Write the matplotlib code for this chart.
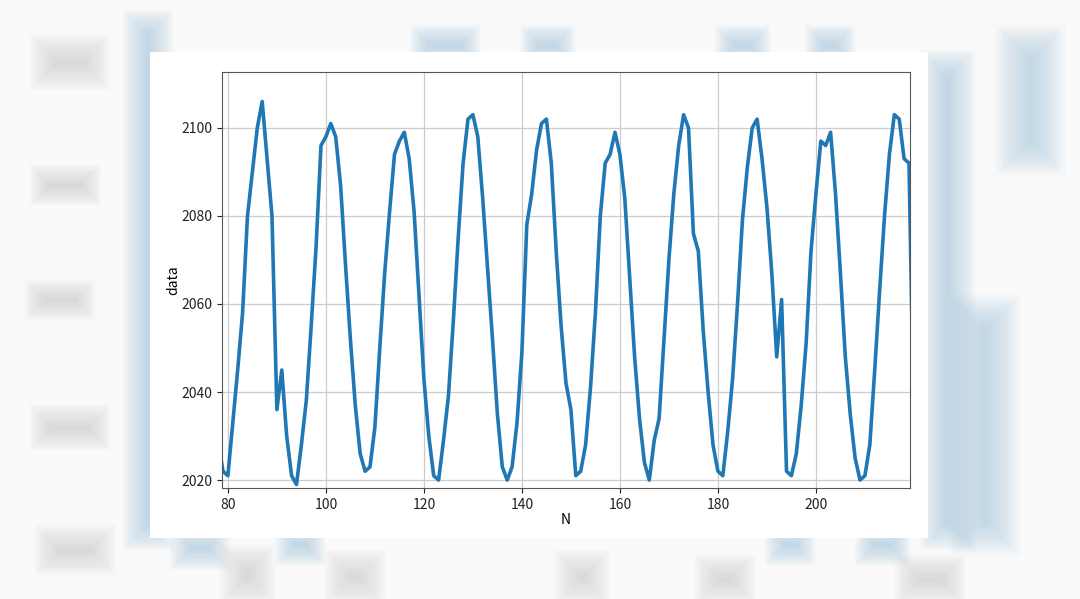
"""
Line chart of a periodic signal (data vs N), drawn on a white card over a
soft, blurred backdrop.
"""
import numpy as np
import matplotlib.pyplot as plt
from matplotlib.patches import Rectangle

plt.rcParams['font.family'] = ['Noto Sans CJK SC', 'DejaVu Sans']

N = list(range(78, 221))
data = [
    2029, 2022, 2021, 2033, 2045, 2058, 2080, 2090, 2100, 2106,   # 78-87
    2093, 2080, 2036, 2045, 2030, 2021, 2019, 2028, 2038, 2055,   # 88-97
    2073, 2096, 2098, 2101, 2098, 2087, 2069, 2052, 2037, 2026,   # 98-107
    2022, 2023, 2032, 2050, 2067, 2081, 2094, 2097, 2099, 2093,   # 108-117
    2081, 2062, 2043, 2030, 2021, 2020, 2029, 2039, 2056, 2075,   # 118-127
    2092, 2102, 2103, 2098, 2084, 2068, 2052, 2035, 2023, 2020,   # 128-137
    2023, 2033, 2049, 2078, 2085, 2095, 2101, 2102, 2092, 2072,   # 138-147
    2055, 2042, 2036, 2021, 2022, 2028, 2041, 2058, 2080, 2092,   # 148-157
    2094, 2099, 2094, 2084, 2066, 2048, 2034, 2024, 2020, 2029,   # 158-167
    2034, 2052, 2070, 2085, 2096, 2103, 2100, 2076, 2072, 2054,   # 168-177
    2040, 2028, 2022, 2021, 2031, 2043, 2060, 2079, 2091, 2100,   # 178-187
    2102, 2093, 2082, 2067, 2048, 2061, 2022, 2021, 2026, 2037,   # 188-197
    2051, 2072, 2085, 2097, 2096, 2099, 2085, 2067, 2048, 2035,   # 198-207
    2025, 2020, 2021, 2028, 2045, 2063, 2080, 2094, 2103, 2102,   # 208-217
    2093, 2092, 2030,                                             # 218-220
]
x_ticks = [80, 100, 120, 140, 160, 180, 200]
y_ticks = [2020, 2040, 2060, 2080, 2100]

W, H = 1080, 599
fig = plt.figure(figsize=(W / 100, H / 100), dpi=100, facecolor='#fafafa')


def soft_rect(x0, y0, w, h, color, alpha=0.045, layers=14):
    # pixel coords (top-left origin); stacked shrinking boxes fake a blur
    for i in range(layers):
        d = -6 + i * (min(w, h) / 2 + 6) / layers
        fig.patches.append(Rectangle(
            ((x0 + d) / W, 1 - (y0 + h - d) / H), (w - 2 * d) / W, (h - 2 * d) / H,
            transform=fig.transFigure, facecolor=color, edgecolor='none',
            alpha=alpha, zorder=0))


BLUE, GREY = '#8fb8d8', '#b5b5b5'
for box in [(128, 15, 40, 530), (925, 55, 45, 490), (1000, 30, 60, 140),
            (955, 300, 60, 250), (415, 30, 60, 30), (525, 30, 45, 30),
            (720, 30, 45, 30), (810, 30, 40, 30), (175, 530, 50, 35),
            (280, 530, 40, 30), (770, 530, 40, 30), (860, 530, 45, 30)]:
    soft_rect(*box, BLUE)
for box in [(35, 40, 70, 45), (35, 170, 60, 30), (30, 285, 60, 30),
            (35, 410, 70, 35), (40, 530, 70, 40), (225, 550, 45, 49),
            (330, 555, 50, 44), (560, 555, 45, 44), (700, 560, 50, 39),
            (900, 560, 60, 39)]:
    soft_rect(*box, GREY, alpha=0.035)

# white card holding the actual plot
fig.patches.append(Rectangle((150 / W, 1 - 538 / H), 778 / W, 486 / H,
                             transform=fig.transFigure, facecolor='white',
                             edgecolor='none', zorder=1))

ax = fig.add_axes([222 / W, 1 - 488 / H, 688 / W, 416 / H])
ax.set_zorder(2)
ax.plot(N, data, color='#1f77b4', linewidth=2.6)

ax.set_xlim(78.8, 219.2)
ax.set_ylim(2018.2, 2112.7)
ax.set_xticks(x_ticks)
ax.set_yticks(y_ticks)
ax.tick_params(labelsize=10, colors='#222222')
ax.grid(True, color='#cccccc', linewidth=0.9)
for s in ax.spines.values():
    s.set_color('#555555')

ax.set_xlabel('N', fontsize=10, labelpad=1)
ax.set_ylabel('data', fontsize=10, labelpad=1)

fig.savefig('out.png', dpi=100, facecolor=fig.get_facecolor())
